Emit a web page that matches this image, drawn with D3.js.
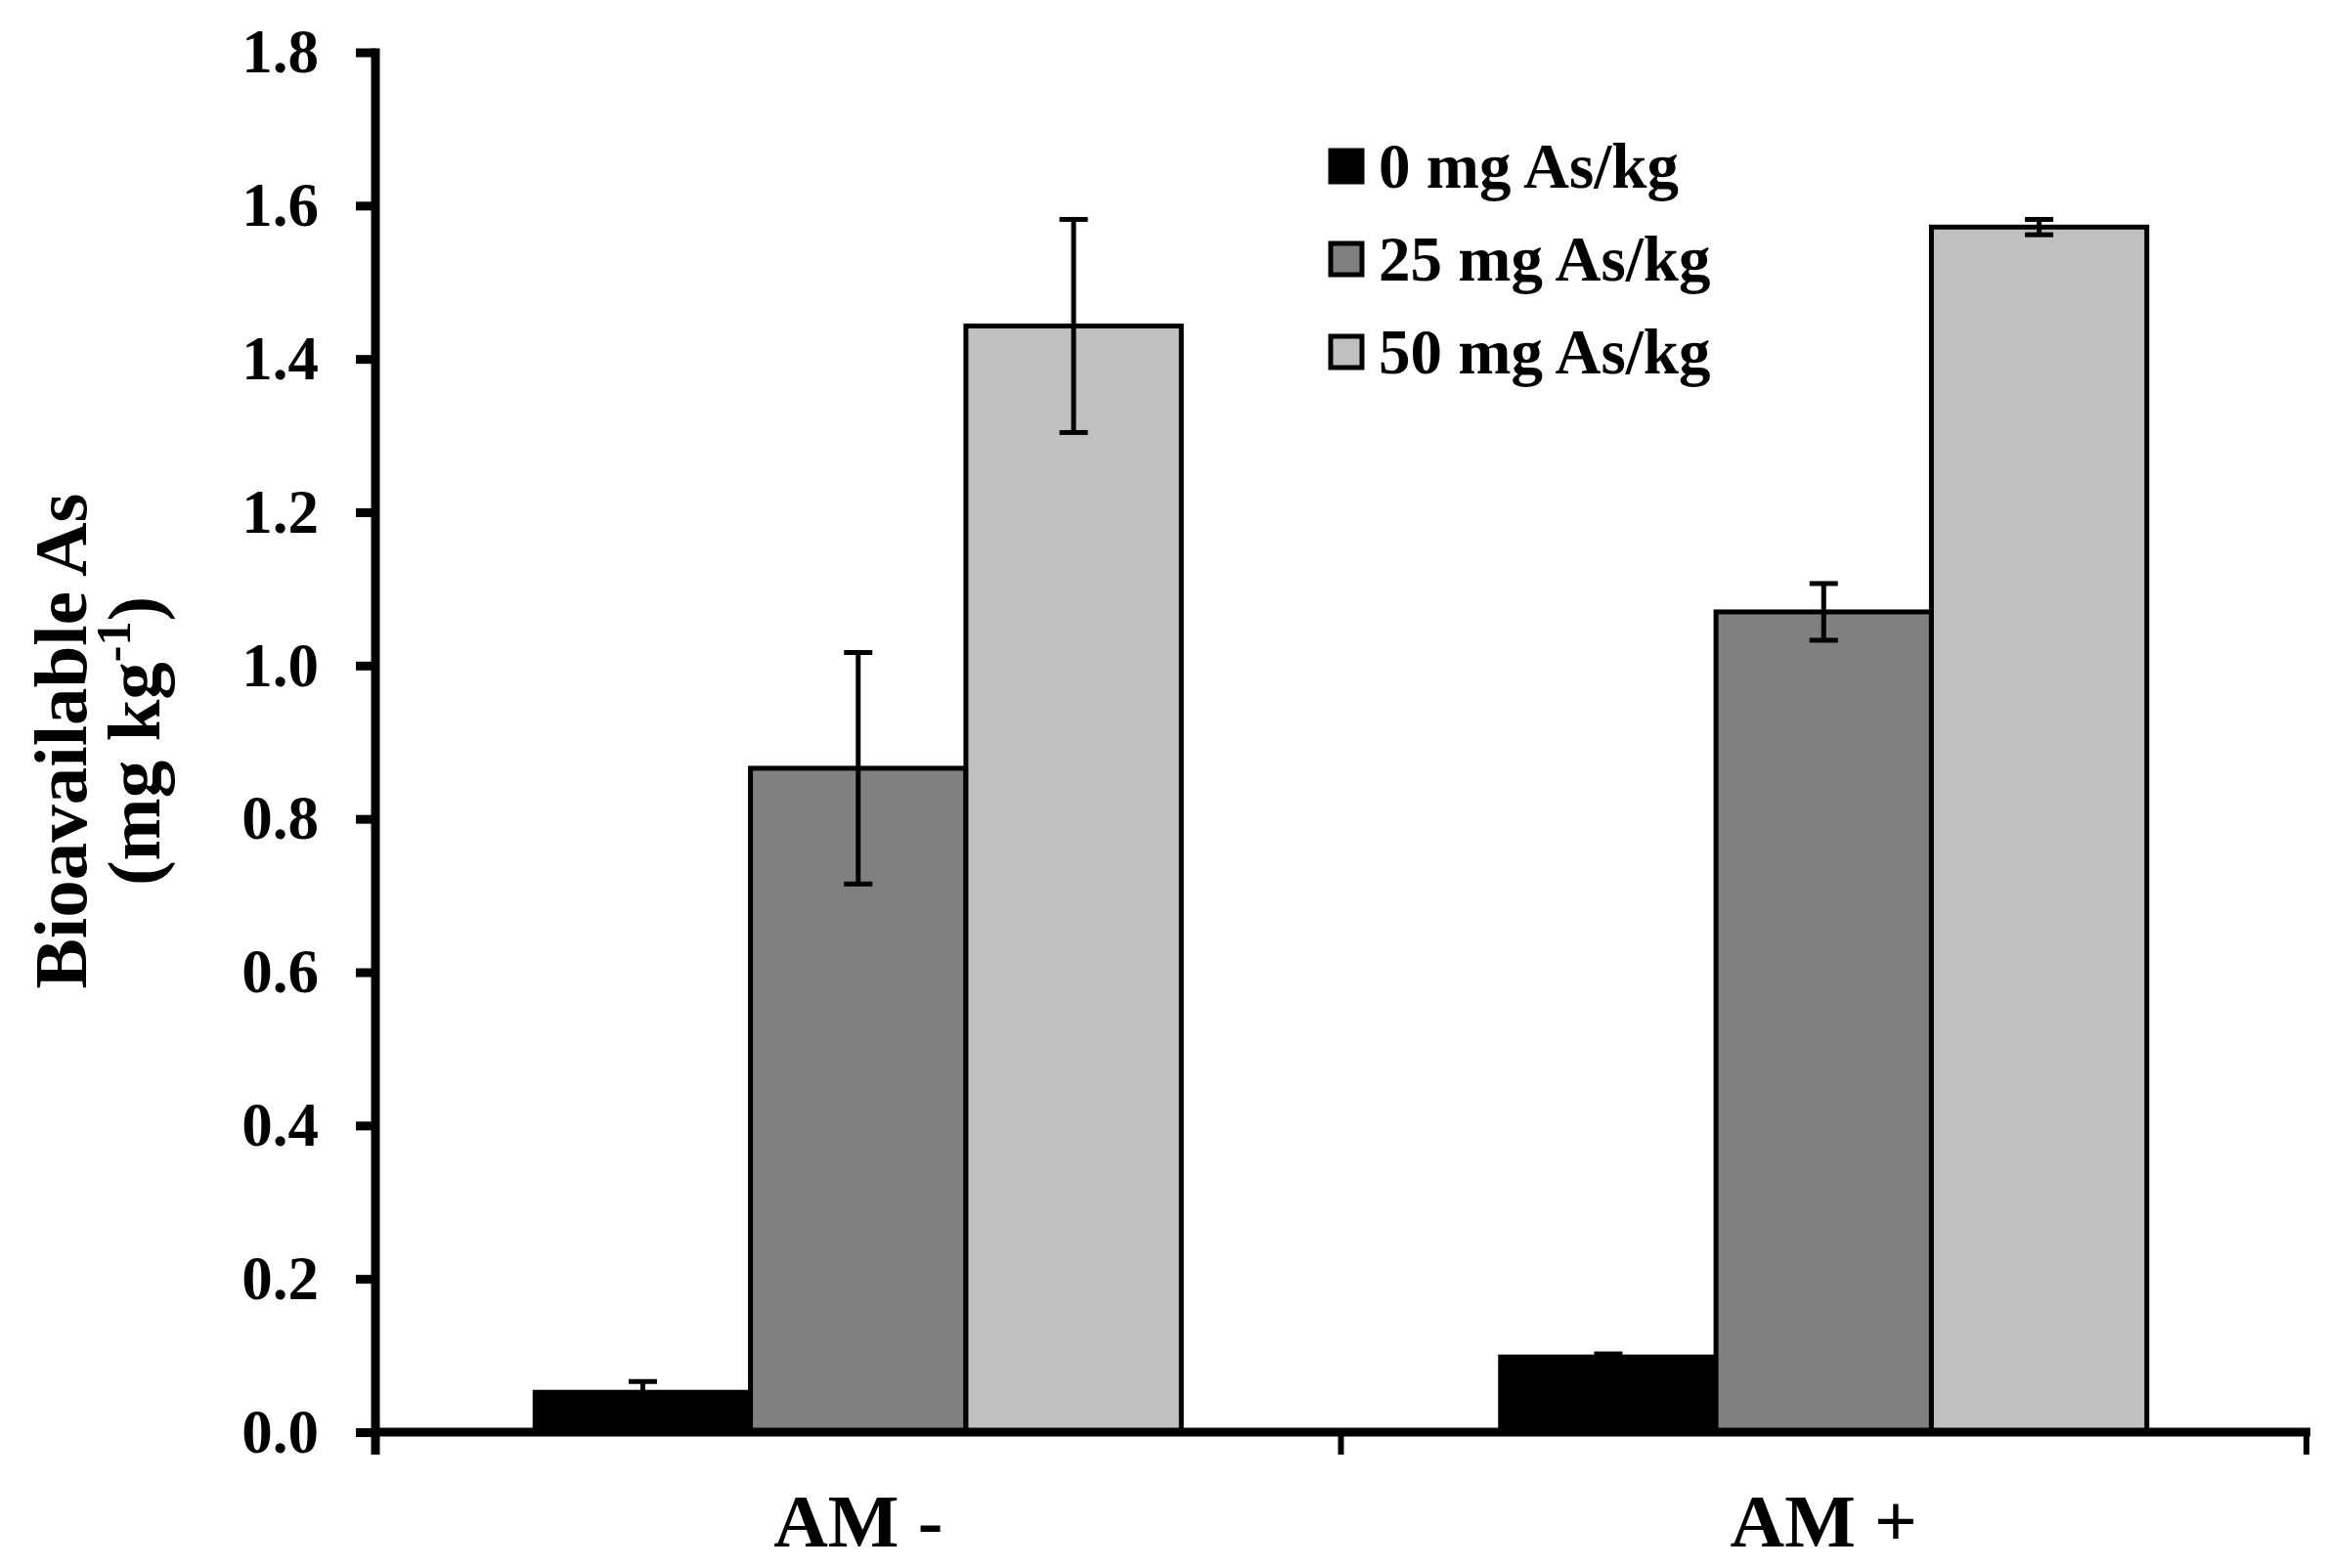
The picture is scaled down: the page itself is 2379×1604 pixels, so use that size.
<!DOCTYPE html>
<html>
<head>
<meta charset="utf-8">
<script src="https://cdn.jsdelivr.net/npm/d3@7"></script>
<style>
  html, body { margin: 0; padding: 0; background: #ffffff; }
  svg { display: block; }
  text { font-family: "Liberation Serif", "Times New Roman", serif; font-weight: bold; fill: #000; }
</style>
</head>
<body>
<script>
// ---- data ----
const categories = ["AM -", "AM +"];
const seriesNames = ["0 mg As/kg", "25 mg As/kg", "50 mg As/kg"];
const seriesColors = ["#000000", "#808080", "#c0c0c0"];
const values0 = [0.052, 0.098];
const values25 = [0.866, 1.070];
const values50 = [1.443, 1.572];
const errors0 = [0.014, 0.004];
const errors25 = [0.151, 0.037];
const errors50 = [0.139, 0.010];
const yTicks = [0, 0.2, 0.4, 0.6, 0.8, 1.0, 1.2, 1.4, 1.6, 1.8];
const yTitle1 = "Bioavailable As";
const yTitle2a = "(mg kg";
const yTitle2sup = "-1";
const yTitle2b = ")";

const seriesValues = [values0, values25, values50];
const seriesErrors = [errors0, errors25, errors50];

const W = 2379, H = 1604;
const svg = d3.select("body").append("svg").attr("width", W).attr("height", H);

const x0 = 384, x1 = 2359, yBottom = 1465, yTop = 53.5;

const x = d3.scaleBand().domain(categories).range([x0, x1]).paddingInner(0).paddingOuter(0);
const xs = d3.scaleBand().domain(d3.range(seriesNames.length)).range([0, x.bandwidth()]).paddingInner(0).paddingOuter(0.741);
const y = d3.scaleLinear().domain([0, 1.8]).range([yBottom, yTop]);

// ---- bars ----
const barData = [];
categories.forEach((c, ci) => {
  seriesNames.forEach((s, si) => {
    barData.push({c, si, v: seriesValues[si][ci], e: seriesErrors[si][ci]});
  });
});

svg.append("g").selectAll("rect").data(barData).join("rect")
  .attr("x", d => x(d.c) + xs(d.si))
  .attr("y", d => y(d.v))
  .attr("width", xs.bandwidth())
  .attr("height", d => y(0) - y(d.v))
  .attr("fill", d => seriesColors[d.si])
  .attr("stroke", "#000")
  .attr("stroke-width", 5);

// ---- error bars ----
const eg = svg.append("g").attr("stroke", "#000").attr("stroke-width", 5);
const capW = 29;
barData.forEach(d => {
  const cx = x(d.c) + xs(d.si) + xs.bandwidth() / 2;
  eg.append("line").attr("x1", cx).attr("x2", cx).attr("y1", y(d.v + d.e)).attr("y2", y(d.v - d.e));
  eg.append("line").attr("x1", cx - capW / 2).attr("x2", cx + capW / 2).attr("y1", y(d.v + d.e)).attr("y2", y(d.v + d.e));
  eg.append("line").attr("x1", cx - capW / 2).attr("x2", cx + capW / 2).attr("y1", y(d.v - d.e)).attr("y2", y(d.v - d.e));
});

// ---- y axis ----
const yAxis = d3.axisLeft(y).tickValues(yTicks).tickFormat(d3.format(".1f")).tickSize(20).tickSizeOuter(0).tickPadding(38);
const gy = svg.append("g").attr("transform", `translate(${x0},0)`).call(yAxis);
gy.select(".domain").attr("stroke", "#000").attr("stroke-width", 9).attr("d", `M0,${yTop - 4}V${yBottom + 23}`);
gy.selectAll(".tick line").attr("stroke", "#000").attr("stroke-width", 9);
gy.selectAll(".tick text").attr("font-size", 63).attr("font-family", "Liberation Serif, serif").attr("font-weight", "bold").attr("fill", "#000");

// ---- x axis ----
const gx = svg.append("g");
gx.append("line").attr("x1", x0).attr("x2", x1 + 4).attr("y1", y(0)).attr("y2", y(0)).attr("stroke", "#000").attr("stroke-width", 9);
const xTickPos = categories.map(c => x(c)).concat([x(categories[categories.length - 1]) + x.bandwidth()]);
gx.selectAll("line.xt").data(xTickPos.slice(1)).join("line").attr("class", "xt")
  .attr("x1", d => d).attr("x2", d => d).attr("y1", y(0)).attr("y2", y(0) + 23)
  .attr("stroke", "#000").attr("stroke-width", 6);
gx.selectAll("text").data(categories).join("text")
  .attr("x", d => x(d) + x.bandwidth() / 2)
  .attr("y", 1582)
  .attr("text-anchor", "middle")
  .attr("font-size", 77)
  .text(d => d);

// ---- y title ----
svg.append("text")
  .attr("transform", "translate(88,758) rotate(-90)")
  .attr("text-anchor", "middle")
  .attr("font-size", 77)
  .text(yTitle1);
const t2 = svg.append("text")
  .attr("transform", "translate(163,758) rotate(-90)")
  .attr("text-anchor", "middle")
  .attr("font-size", 77);
t2.append("tspan").text(yTitle2a);
t2.append("tspan").attr("font-size", 50).attr("dy", -30).text(yTitle2sup);
t2.append("tspan").attr("dy", 30).text(yTitle2b);

// ---- legend ----
const legendY = [170, 265, 360];
const lg = svg.append("g");
seriesNames.forEach((s, i) => {
  lg.append("rect").attr("x", 1361).attr("y", legendY[i] - 16).attr("width", 32).attr("height", 32)
    .attr("fill", seriesColors[i]).attr("stroke", "#000").attr("stroke-width", 5);
  lg.append("text").attr("x", 1410).attr("y", legendY[i] + 22).attr("font-size", 65).text(s);
});
</script>
</body>
</html>
